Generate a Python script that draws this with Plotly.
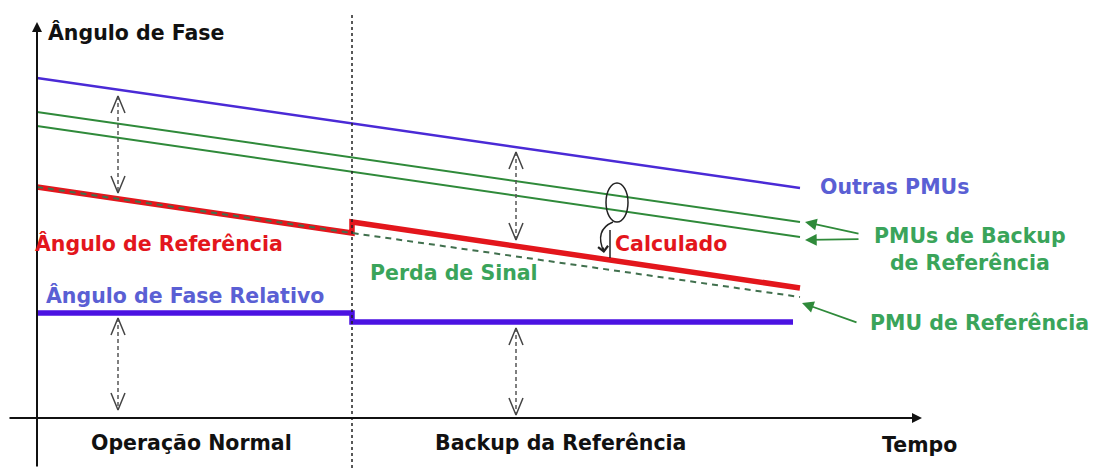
"""Ângulo de fase relativo: operação normal x backup da referência (diagrama esquemático)."""
import plotly.graph_objects as go

# eixo de tempo (unid. arbitrárias) e ângulos (unid. arbitrárias)
TROCA = 352  # instante da perda de sinal da PMU de referência
T_PMUS = [37, 800]
OUTRAS_PMUS = [390, 280]
BACKUP_PMU_1 = [356, 246]
BACKUP_PMU_2 = [342, 231]

T_REF = [37, TROCA, TROCA, 800]
ANG_REFERENCIA = [281, 235, 246, 180]  # medido e depois calculado

T_PMU_REF = [37, TROCA, 800]
PMU_REFERENCIA = [281, 235, 171]

T_REL = [37, TROCA, TROCA, 793]
ANG_RELATIVO = [155, 155, 146, 146]

# setas duplas (diferenças de ângulo)
SETA_T = [118, 516, 118, 516]
SETA_TOPO = [372, 316, 150, 140]
SETA_BASE = [275, 228, 58, 53]

FONT = "DejaVu Sans, Arial, sans-serif"
RED = "#e3161c"
BLUE_LINE = "#4a2ad6"
BLUE_THICK = "#4b12e2"
BLUE_TXT = "#5a5fd4"
GREEN_LINE = "#2f8a3a"
GREEN_TXT = "#3aa45a"
GREEN_DASH = "#41704e"

fig = go.Figure()

fig.add_trace(go.Scatter(x=T_PMUS, y=OUTRAS_PMUS, mode="lines",
                         line=dict(color=BLUE_LINE, width=2.5)))
for ys in (BACKUP_PMU_1, BACKUP_PMU_2):
    fig.add_trace(go.Scatter(x=T_PMUS, y=ys, mode="lines",
                             line=dict(color=GREEN_LINE, width=2)))
fig.add_trace(go.Scatter(x=T_REF, y=ANG_REFERENCIA, mode="lines",
                         line=dict(color=RED, width=5.5)))
fig.add_trace(go.Scatter(x=T_PMU_REF, y=PMU_REFERENCIA, mode="lines",
                         line=dict(color=GREEN_DASH, width=2, dash="6px,5px")))
fig.add_trace(go.Scatter(x=T_REL, y=ANG_RELATIVO, mode="lines",
                         line=dict(color=BLUE_THICK, width=5.5)))

# setas duplas tracejadas com pontas abertas
for x, yt, yb in zip(SETA_T, SETA_TOPO, SETA_BASE):
    fig.add_trace(go.Scatter(x=[x, x], y=[yt, yb], mode="lines",
                             line=dict(color="#555555", width=1.5, dash="4px,3px")))
    fig.add_trace(go.Scatter(x=[x - 7, x, x + 7, None, x - 7, x, x + 7],
                             y=[yt - 17, yt, yt - 17, None, yb + 17, yb, yb + 17],
                             mode="lines", line=dict(color="#444444", width=1.5)))

shapes = [
    dict(type="line", x0=TROCA, x1=TROCA, y0=0, y1=456,
         line=dict(color="#222222", width=1.5, dash="dot")),
    # elipse e marcador do valor calculado
    dict(type="circle", x0=606, x1=628, y0=246, y1=285, line=dict(color="#222222", width=1.5)),
    dict(type="path", path="M 613 246 Q 594 238 604 216", line=dict(color="#222222", width=1.5)),
    dict(type="line", x0=610, x1=610, y0=210, y1=238, line=dict(color="#222222", width=1.5)),
]

ann = [
    # eixos
    dict(x=37, y=446, ax=37, ay=0, arrowwidth=2, arrowcolor="#111111"),
    dict(x=922, y=50, ax=8, ay=50, arrowwidth=2, arrowcolor="#111111"),
    # setas verdes das legendas
    dict(x=805, y=246, ax=860, ay=234, arrowwidth=1.8, arrowsize=1.3, arrowcolor=GREEN_LINE),
    dict(x=805, y=228, ax=860, ay=229, arrowwidth=1.8, arrowsize=1.3, arrowcolor=GREEN_LINE),
    dict(x=802, y=165, ax=858, ay=145, arrowwidth=1.8, arrowsize=1.3, arrowcolor=GREEN_LINE),
    # ponta da seta curva
    dict(x=604, y=215, ax=603, ay=222, arrowwidth=1.5, arrowhead=4, arrowsize=1.3,
         arrowcolor="#222222"),
]
for a in ann:
    a.update(xref="x", yref="y", axref="x", ayref="y", text="", showarrow=True)
    a.setdefault("arrowhead", 2)
    a.setdefault("arrowsize", 1)

labels = [
    ("Ângulo de Fase", 46, 436, "left", "#111111"),
    ("Ângulo de Referência", 33, 225, "left", RED),
    ("Ângulo de Fase Relativo", 44, 173, "left", BLUE_TXT),
    ("Perda de Sinal", 368, 195, "left", GREEN_TXT),
    ("Calculado", 613, 224, "left", RED),
    ("Outras PMUs", 818, 281, "left", BLUE_TXT),
    ("PMUs de Backup<br>de Referência", 970, 219, "center", GREEN_TXT),
    ("PMU de Referência", 868, 145, "left", GREEN_TXT),
    ("Operação Normal", 191, 25, "center", "#111111"),
    ("Backup da Referência", 560, 25, "center", "#111111"),
    ("Tempo", 919, 23, "center", "#111111"),
]
for text, x, y, anchor, color in labels:
    ann.append(dict(x=x, y=y, xref="x", yref="y", text=f"<b>{text}</b>", showarrow=False,
                    xanchor=anchor, yanchor="middle", align="center",
                    font=dict(family=FONT, size=20.5, color=color)))

fig.update_layout(
    width=1097, height=468,
    margin=dict(l=0, r=0, t=0, b=0),
    paper_bgcolor="white", plot_bgcolor="white",
    showlegend=False,
    xaxis=dict(range=[0, 1097], visible=False, fixedrange=True),
    yaxis=dict(range=[0, 468], visible=False, fixedrange=True),
    shapes=shapes, annotations=ann,
)

fig.write_html("out.html", config={"displayModeBar": False},
               post_script="document.body.style.margin='0';")
